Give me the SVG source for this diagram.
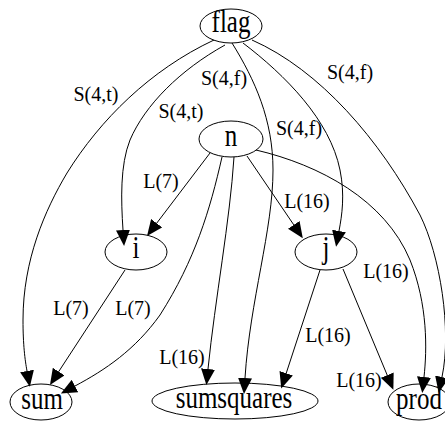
<svg xmlns="http://www.w3.org/2000/svg" width="445" height="421" viewBox="0 0 445 421">
  <style>
    text { font-family: "Liberation Serif", Tinos, "Nimbus Roman", "Nimbus Roman No9 L", FreeSerif, Times, "Times New Roman", "DejaVu Serif", "Noto Serif", serif; fill: #000; text-anchor: middle; }
    .node ellipse { fill: none; stroke: #000; stroke-width: 1; }
    .node text { font-size: 25px; }
    .edges path { fill: none; stroke: #000; stroke-width: 1; marker-end: url(#arrow); }
    .edges text { font-size: 20px; }
  </style>
  <defs>
    <marker id="arrow" viewBox="0 0 16 14" refX="0" refY="7" markerWidth="16" markerHeight="14" orient="auto" markerUnits="userSpaceOnUse">
      <path d="M0,0 L16,7 L0,14 z" fill="#000"/>
    </marker>
  </defs>
  <rect width="445" height="421" fill="#fff"/>

  <!-- connectors -->
  <g id="edges" class="edges">
    <!-- flag -> sum -->
    <path d="M214,40 C150,70 100,120 67,173 C45,210 23,260 23,320 C23,345 25,360 27,371"/>
    <text x="96" y="101">S(4,t)</text>
    <!-- flag -> i -->
    <path d="M225,45 C180,70 145,105 130,140 C120,165 121,200 123,230"/>
    <text x="181" y="118">S(4,t)</text>
    <!-- flag -> sumsquares -->
    <path d="M232,43 C255,80 273,120 273,170 C273,230 250,300 245,378"/>
    <text x="224" y="85">S(4,f)</text>
    <!-- flag -> j -->
    <path d="M243,43 C285,75 330,120 340,170 C345,195 342,215 339,231"/>
    <text x="299" y="135">S(4,f)</text>
    <!-- flag -> prod -->
    <path d="M252,40 C320,70 380,140 420,215 C440,255 452,330 442,377"/>
    <text x="350" y="79">S(4,f)</text>
    <!-- n -> i -->
    <path d="M210,153 L156.7,223.2"/>
    <text x="161" y="188">L(7)</text>
    <!-- n -> sum -->
    <path d="M222,157 C210,210 195,260 160,315 C135,350 105,370 75,386"/>
    <text x="133" y="315">L(7)</text>
    <!-- n -> sumsquares -->
    <path d="M234,157 C230,220 215,300 208,369"/>
    <text x="182" y="364">L(16)</text>
    <!-- n -> j -->
    <path d="M247,156 L293.8,224.9"/>
    <text x="307" y="208">L(16)</text>
    <!-- n -> prod -->
    <path d="M256,150 C320,165 385,200 410,260 C428,305 427,350 424,377"/>
    <text x="386" y="278">L(16)</text>
    <!-- i -> sum -->
    <path d="M125,270 L58.7,371.6"/>
    <text x="71" y="315">L(7)</text>
    <!-- j -> sumsquares -->
    <path d="M320,270 L286.2,373.3"/>
    <text x="328" y="342">L(16)</text>
    <!-- j -> prod -->
    <path d="M343,269 L387.2,375.1"/>
    <text x="359" y="387">L(16)</text>
  </g>

  <!-- nodes -->
  <g id="flag" class="node">
    <ellipse cx="231" cy="26" rx="31" ry="17"/>
    <text transform="translate(231,32) scale(1,1.25)">flag</text>
  </g>
  <g id="n" class="node">
    <ellipse cx="231" cy="139" rx="32" ry="18"/>
    <text transform="translate(231,146) scale(1,1.25)">n</text>
  </g>
  <g id="i" class="node">
    <ellipse cx="136" cy="252" rx="31" ry="18"/>
    <text transform="translate(136,258) scale(1,1.25)">i</text>
  </g>
  <g id="j" class="node">
    <ellipse cx="326" cy="252" rx="31" ry="18"/>
    <text transform="translate(326,258) scale(1,1.25)">j</text>
  </g>
  <g id="sum" class="node">
    <ellipse cx="41" cy="402" rx="31" ry="18"/>
    <text transform="translate(42,409) scale(1,1.25)">sum</text>
  </g>
  <g id="sumsquares" class="node">
    <ellipse cx="235" cy="401" rx="83" ry="18"/>
    <text transform="translate(234,408) scale(1,1.25)">sumsquares</text>
  </g>
  <g id="prod" class="node">
    <ellipse cx="419" cy="402" rx="31" ry="18"/>
    <text transform="translate(419,409) scale(1,1.25)">prod</text>
  </g>
</svg>
